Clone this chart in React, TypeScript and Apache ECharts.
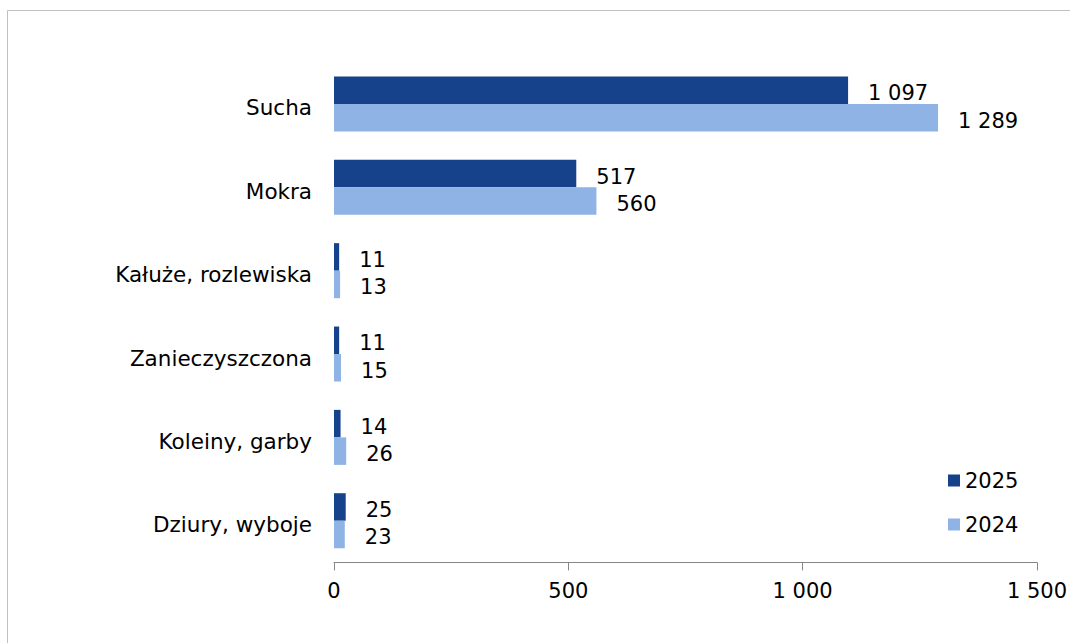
import React, { useEffect, useRef } from "react";
import * as echarts from "echarts";

const categories = [
  "Sucha",
  "Mokra",
  "Kałuże, rozlewiska",
  "Zanieczyszczona",
  "Koleiny, garby",
  "Dziury, wyboje",
];
const values2025 = [1097, 517, 11, 11, 14, 25];
const values2024 = [1289, 560, 13, 15, 26, 23];
const seriesNames = ["2025", "2024"];
const xTicks = [0, 500, 1000, 1500];

const fmt = (v: number) =>
  String(Math.round(v)).replace(/\B(?=(\d{3})+(?!\d))/g, " ");

const FONT = "DejaVu Sans, Verdana, sans-serif";
const FS = 21;

export default function App() {
  const ref = useRef<HTMLDivElement>(null);
  useEffect(() => {
    if (!ref.current) return;
    document.documentElement.style.overflow = "hidden";
    document.body.style.overflow = "hidden";
    const chart = echarts.init(ref.current, undefined, { renderer: "svg" });
    const label = {
      show: true,
      position: "right",
      distance: 20,
      offset: [0, 3],
      color: "#000",
      fontSize: FS,
      fontFamily: FONT,
      formatter: (p: any) => fmt(p.value),
    };
    chart.setOption({
      animation: false,
      backgroundColor: "#fff",
      textStyle: { fontFamily: FONT },
      graphic: [
        {
          type: "rect",
          shape: { x: 7.5, y: 10.5, width: 1300, height: 900 },
          style: { fill: "none", stroke: "#c0c0c0", lineWidth: 1 },
          silent: true,
        },
      ],
      grid: { left: 334, right: 33, top: 62.3, bottom: 80.6, containLabel: false },
      legend: {
        orient: "vertical",
        left: 943,
        top: 465,
        itemWidth: 12,
        itemHeight: 12,
        itemGap: 23,
        icon: "rect",
        data: seriesNames,
        textStyle: { fontSize: FS, color: "#000", fontFamily: FONT },
      },
      xAxis: {
        type: "value",
        min: xTicks[0],
        max: xTicks[xTicks.length - 1],
        interval: 500,
        axisLine: { show: true, lineStyle: { color: "#868686", width: 1 } },
        axisTick: { show: true, length: 8, lineStyle: { color: "#868686" } },
        splitLine: { show: false },
        axisLabel: {
          margin: 18,
          fontSize: FS,
          color: "#000",
          fontFamily: FONT,
          formatter: (v: number) => fmt(v),
        },
      },
      yAxis: {
        type: "category",
        data: categories,
        inverse: true,
        axisLine: { show: false },
        axisTick: { show: false },
        axisLabel: {
          margin: 22,
          fontSize: 21.5,
          color: "#000",
          fontFamily: FONT,
          formatter: (v: string) => `{a|${v}}`,
          rich: {
            a: {
              fontSize: 21.5,
              color: "#000",
              fontFamily: FONT,
              padding: [8, 0, 0, 0],
            },
          },
        },
      },
      series: [
        {
          name: seriesNames[0],
          type: "bar",
          data: values2025,
          itemStyle: { color: "#15428B" },
          barGap: "0%",
          barCategoryGap: "34%",
          label,
        },
        {
          name: seriesNames[1],
          type: "bar",
          data: values2024,
          itemStyle: { color: "#8EB3E4" },
          barGap: "0%",
          barCategoryGap: "34%",
          label,
        },
      ],
    });
    return () => chart.dispose();
  }, []);
  return (
    <div
      ref={ref}
      style={{ position: "fixed", left: 0, top: 0, width: 1070, height: 643 }}
    />
  );
}
